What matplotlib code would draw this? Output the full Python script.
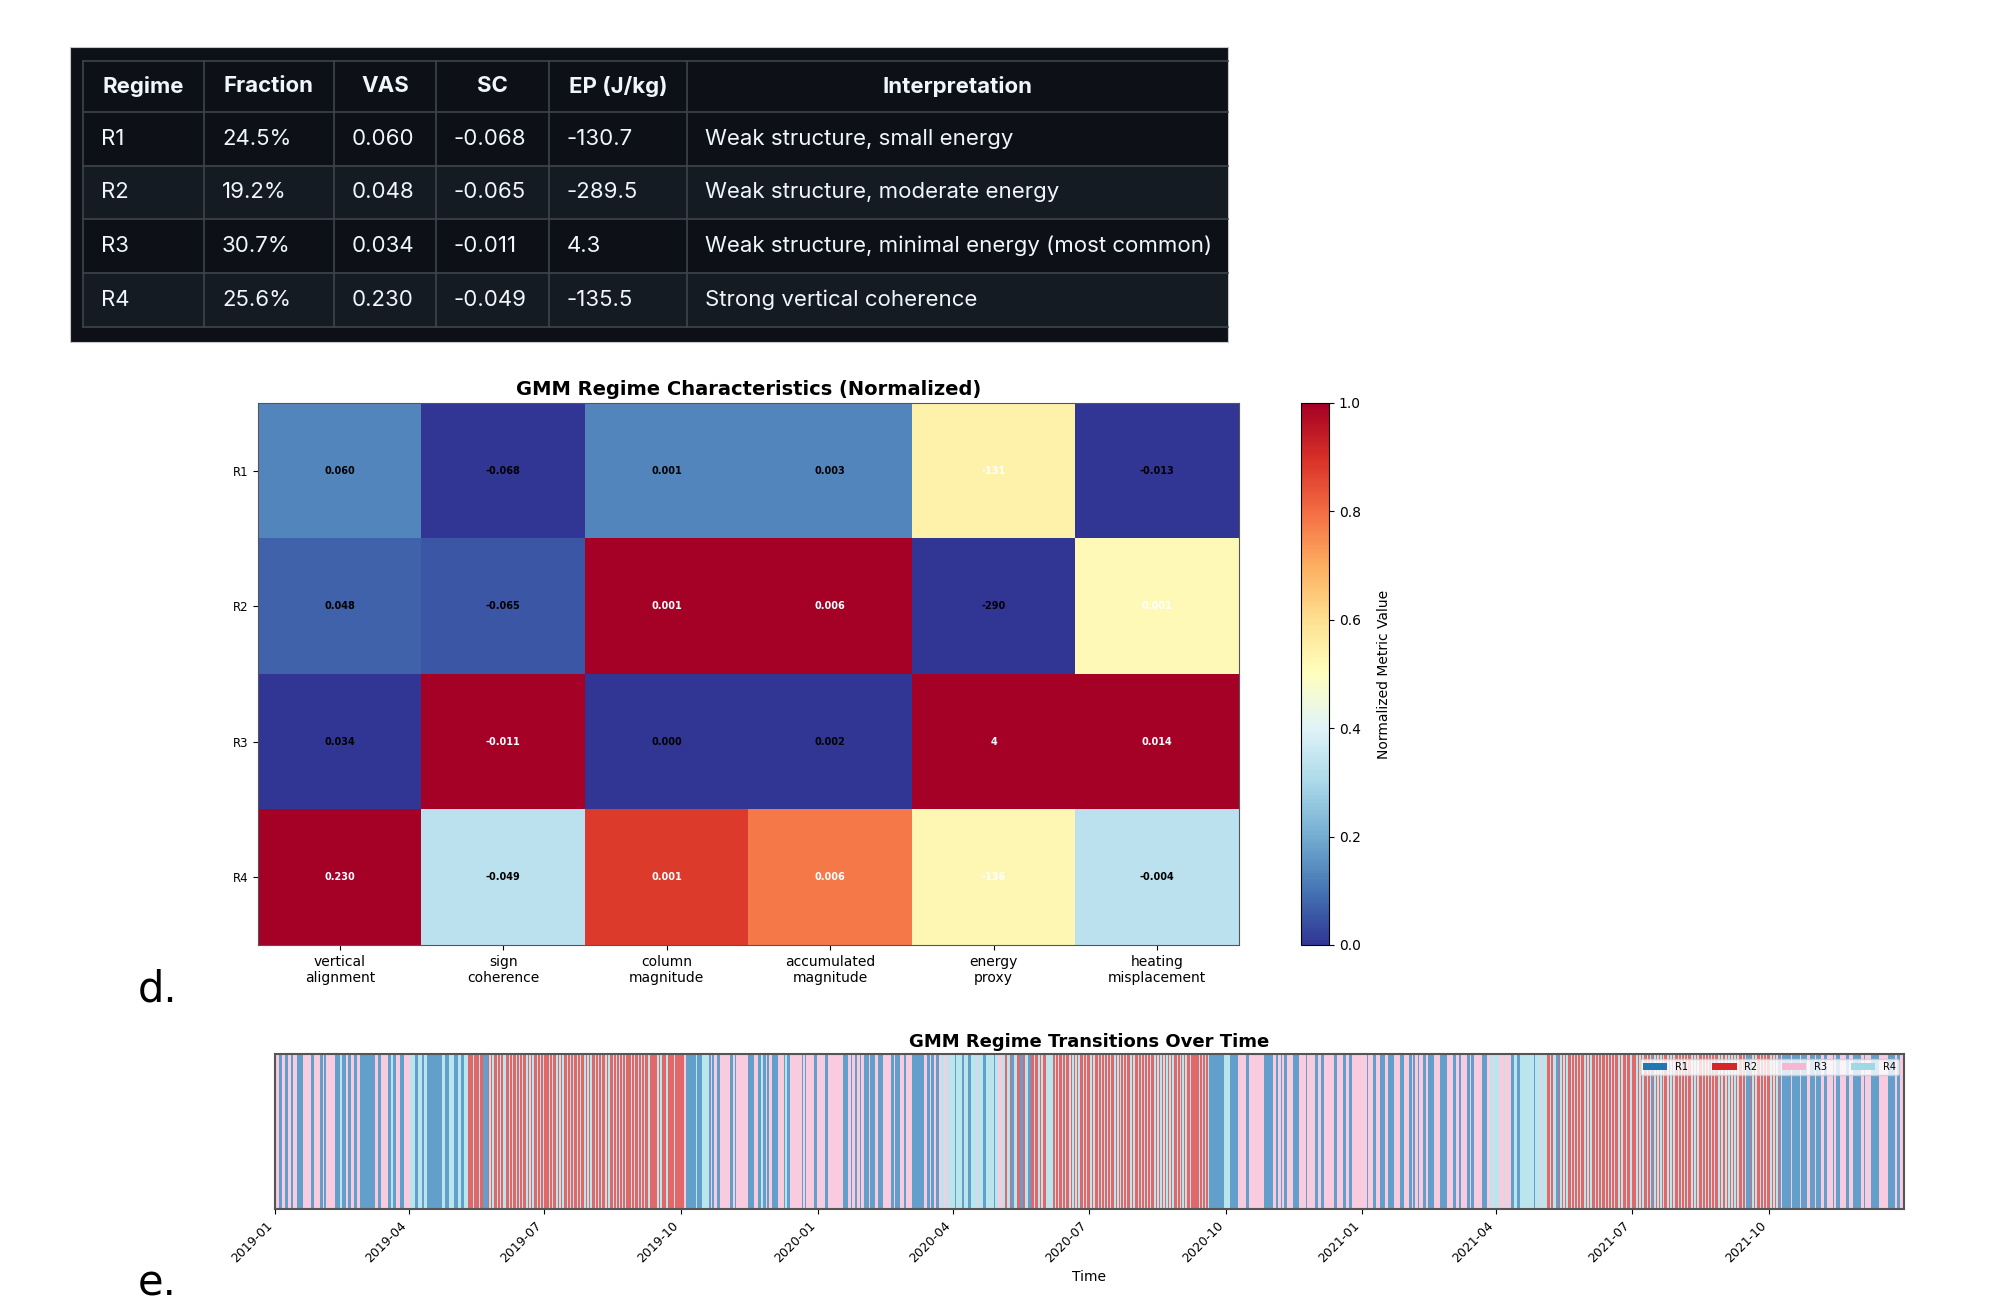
import numpy as np
import pandas as pd
import matplotlib
matplotlib.use('Agg')
import matplotlib.pyplot as plt
import matplotlib.dates as mdates
from matplotlib.patches import Patch, Rectangle

W, H = 1999, 1307

# ---- data ----
regimes = ['R1', 'R2', 'R3', 'R4']
fraction = ['24.5%', '19.2%', '30.7%', '25.6%']
vas = [0.060, 0.048, 0.034, 0.230]
sc = [-0.068, -0.065, -0.011, -0.049]
ep = [-130.7, -289.5, 4.3, -135.5]
interp = ['Weak structure, small energy',
          'Weak structure, moderate energy',
          'Weak structure, minimal energy (most common)',
          'Strong vertical coherence']
table_header = ['Regime', 'Fraction', 'VAS', 'SC', 'EP (J/kg)', 'Interpretation']

metrics = ['vertical\nalignment', 'sign\ncoherence', 'column\nmagnitude',
           'accumulated\nmagnitude', 'energy\nproxy', 'heating\nmisplacement']
col_mag = [0.001, 0.001, 0.000, 0.001]
acc_mag = [0.003, 0.006, 0.002, 0.006]
heat_mis = [-0.013, 0.001, 0.014, -0.004]
# cell colours of the two magnitude columns (values too small to normalise from the rounded numbers)
col_mag_norm = [0.13, 1.0, 0.0, 0.88]
acc_mag_norm = [0.13, 1.0, 0.0, 0.78]

# regime sequence, daily from 2019-01-01: (regime, number of days) runs,
# strings where the day-to-day switching is fast (one digit per day)
runs_2019a = [(3,3),(1,2),(3,2),(1,2),(3,2),(1,1),(3,3),(1,4),(3,5),(1,2),(3,4),(1,2),(3,1),(1,1),
              (3,6),(1,4),(4,1),(1,3),(3,1),(1,2),(3,2),(1,2),(3,2),(1,10),(3,2),(1,2),(3,5),(1,2),
              (4,1),(1,2),(3,3),(1,3),(3,4),(4,3),(1,2),(4,3),(1,1),(4,2),(1,10),(4,2),(1,3),(4,3),
              (1,3),(4,2),(1,2),(4,3),
              '2224222422', '1112424224', '2424422424', '2242424224', '2424224242', '422']
runs_2019b = ['2424224242', '4224242422', '4242242424', '2242424224', '2422424242',
              '4242224242', '2424242242', '2222424222', '4222242222', '22',
              (3,1),(1,2),(1,5),(4,1),(1,3),(4,2),(4,3),(1,1),(3,1),(1,1),(3,2),(1,2),(3,7),(1,2),
              (3,1),(1,1),(3,2),(3,6),(1,4),(3,3),(1,2),(4,1),(1,2),(3,1),(1,1),(3,2),(1,4),(3,4),
              (1,1),(4,1),(1,2),(3,8),(1,1),(3,1),(1,1),(3,2),(3,3),(1,2),(3,1)]
runs_2020a = [(3,5),(1,2),(3,10),(1,3),(3,2),(1,1),(3,2),(1,1),(3,2),(1,1),(3,2),(1,3),(3,1),(1,3),
              (3,2),(1,4),(3,5),(1,2),(3,1),(1,3),(3,3),(1,1),(3,4),(1,8),(3,2),(1,2),(3,1),(1,2),
              (3,1),(1,2),(3,2),(4,2),(3,1),(4,2),(3,1),(4,3),(1,1),(4,4),(1,1),(4,3),(1,2),(4,3),
              (3,1),(4,4),(1,2),(4,5),(1,1),(4,2),(3,3),(4,2),(2,1),(4,2),(2,1),(1,2),(4,2),(2,2),
              (1,2),(2,1),(4,2),(1,2),
              '2242242422', '4444424242', '2424224242', '4242242422']
runs_2020b = ['4242242424', '2424224242', '4242422424', '2242424242', '4224242424',
              '2424242242', '4242422422', '222424242',
              (4,1),(1,10),(4,4),(1,5),(3,6),(1,2),(3,10),
              (1,6),(3,2),(1,1),(3,2),(1,1),(3,1),(1,2),(3,4),(1,4),(3,5),(1,1),(3,5),(1,2),(3,2),
              (1,2),(3,7),(1,2),(3,4),(1,2),(3,2),(1,2),(3,7)]
runs_2021a = [(3,3),(1,1),(3,3),(1,2),(3,3),(1,3),(3,2),(1,4),(3,4),(1,3),(3,3),(1,2),(3,1),(1,1),
              (3,2),(1,1),(3,3),(1,2),(3,1),(1,4),(3,4),(1,5),(3,4),(1,2),(3,2),(1,1),(3,4),(1,2),
              (3,1),(1,2),(3,5),(1,4),(3,2),(4,1),(3,1),(4,4),(3,3),(4,1),(3,4),(1,2),(4,2),(1,2),
              (4,9),(1,1),(4,4),(3,1),(4,3),
              '2242441124', '2424224242', '4242242424', '2242424224', '2424242242', '42242242']
runs_2021b = ['2242424224', '2412424242', '4224242422', '4242424224', '2424224242',
              '4242422424', '2242424242', '4224241112', '4242242424', '22424242',
              (1,1),(3,1),(1,6),(3,1),(1,5),(3,1),(1,4),(3,2),(1,3),(3,1),(1,3),(3,2),(1,2),
              (3,4),(1,1),(3,1),(1,3),(3,4),(1,2),(3,3),(1,5),(3,2),(1,1),(3,4),(1,5),(3,6),(1,5),
              (3,1),(1,2),(3,2),(1,1),(3,1)]

regime_colors = {1: '#1f77b4', 2: '#d62728', 3: '#f7b6d2', 4: '#9edae5'}

# ---- figure ----
fig = plt.figure(figsize=(W / 100, H / 100), dpi=100)

# table (dark markdown render)
tax = fig.add_axes([0, 0, 1, 1])
tax.set_xlim(0, W)
tax.set_ylim(H, 0)
tax.axis('off')
tax.add_patch(Rectangle((70, 47), 1158, 295, facecolor='#0d1117', edgecolor='#c8c8c8', lw=0.8))
col_x = [83, 204, 334, 436, 549, 687, 1228]
row_y = [61, 112, 166, 219, 273, 327]
for i in range(len(regimes)):
    bg = '#151b23' if i % 2 == 1 else '#0d1117'
    tax.add_patch(Rectangle((col_x[0], row_y[i + 1]), col_x[-1] - col_x[0], row_y[i + 2] - row_y[i + 1],
                            facecolor=bg, edgecolor='none'))
for y in row_y:
    tax.plot([col_x[0], col_x[-1]], [y, y], color='#3d444d', lw=1.2)
for x in col_x[:-1]:
    tax.plot([x, x], [row_y[0], row_y[-1]], color='#3d444d', lw=1.2)
tfont = dict(family=['Inter', 'DejaVu Sans'], color='#f0f6fc', fontsize=16)
for j, h in enumerate(table_header):
    tax.text((col_x[j] + col_x[j + 1]) / 2, (row_y[0] + row_y[1]) / 2, h, ha='center', va='center',
             fontweight='bold', **tfont)
rows = list(zip(regimes, fraction, [f'{v:.3f}' for v in vas], [f'{v:.3f}' for v in sc],
                [f'{v:.1f}' for v in ep], interp))
for i, row in enumerate(rows):
    for j, cell in enumerate(row):
        tax.text(col_x[j] + 18, (row_y[i + 1] + row_y[i + 2]) / 2, cell, ha='left', va='center', **tfont)

# heatmap
raw = np.array([vas, sc, col_mag, acc_mag, ep, heat_mis]).T


def minmax(a):
    a = np.asarray(a, dtype=float)
    return (a - a.min()) / (a.max() - a.min())


norm = np.array([minmax(vas), minmax(sc), col_mag_norm, acc_mag_norm, minmax(ep), minmax(heat_mis)]).T

hax = fig.add_axes([258 / W, 1 - 945 / H, 981 / W, 542 / H])
im = hax.imshow(norm, cmap='RdYlBu_r', aspect='auto', vmin=0, vmax=1)
hax.set_xticks(range(len(metrics)))
hax.set_xticklabels(metrics, fontsize=10)
hax.set_yticks(range(len(regimes)))
hax.set_yticklabels(regimes, fontsize=8.5)
hax.set_title('GMM Regime Characteristics (Normalized)', fontsize=14, fontweight='bold', pad=6)
for i in range(len(regimes)):
    for j in range(len(metrics)):
        txt = f'{raw[i, j]:.0f}' if j == 4 else f'{raw[i, j]:.3f}'
        hax.text(j, i, txt, ha='center', va='center', fontsize=7, fontweight='bold',
                 color='white' if norm[i, j] > 0.5 else 'black')
for s in hax.spines.values():
    s.set_color('#555555')

cax = fig.add_axes([1301 / W, 1 - 945 / H, 28 / W, 542 / H])
cb = fig.colorbar(im, cax=cax)
cb.set_label('Normalized Metric Value', fontsize=10, labelpad=12)
cb.ax.tick_params(labelsize=10)

fig.text(138 / W, 1 - 1001 / H, 'd.', fontsize=30, ha='left', va='baseline')

# regime timeline
seq = []
for block in [runs_2019a, runs_2019b, runs_2020a, runs_2020b, runs_2021a, runs_2021b]:
    for item in block:
        if isinstance(item, str):
            seq += [int(c) for c in item]
        else:
            seq += [item[0]] * item[1]
dates = pd.date_range('2019-01-01', periods=len(seq), freq='D')

lax = fig.add_axes([275 / W, 1 - 1209 / H, 1629 / W, 155 / H])
for d, r in zip(dates, seq):
    lax.axvspan(d, d + pd.Timedelta(days=1), color=regime_colors[r], alpha=0.7, lw=0)
lax.set_xlim(dates[0], dates[-1])
lax.set_ylim(0, 1)
lax.set_yticks([])
lax.xaxis.set_major_locator(mdates.MonthLocator(bymonth=[1, 4, 7, 10]))
lax.xaxis.set_major_formatter(mdates.DateFormatter('%Y-%m'))
plt.setp(lax.get_xticklabels(), rotation=45, ha='right', fontsize=9)
lax.set_xlabel('Time', fontsize=10)
lax.set_title('GMM Regime Transitions Over Time', fontsize=13, fontweight='bold', pad=5)
for s in lax.spines.values():
    s.set_color('#555555')
    s.set_linewidth(1.5)
handles = [Patch(facecolor=regime_colors[k], label=f'R{k}') for k in range(1, 5)]
lax.legend(handles=handles, loc='upper right', ncol=4, fontsize=7, handlelength=2.5,
           borderpad=0.3, columnspacing=2.5, framealpha=0.8)

fig.text(138 / W, 1 - 1295 / H, 'e.', fontsize=30, ha='left', va='baseline')

fig.savefig('out.png', dpi=100)
